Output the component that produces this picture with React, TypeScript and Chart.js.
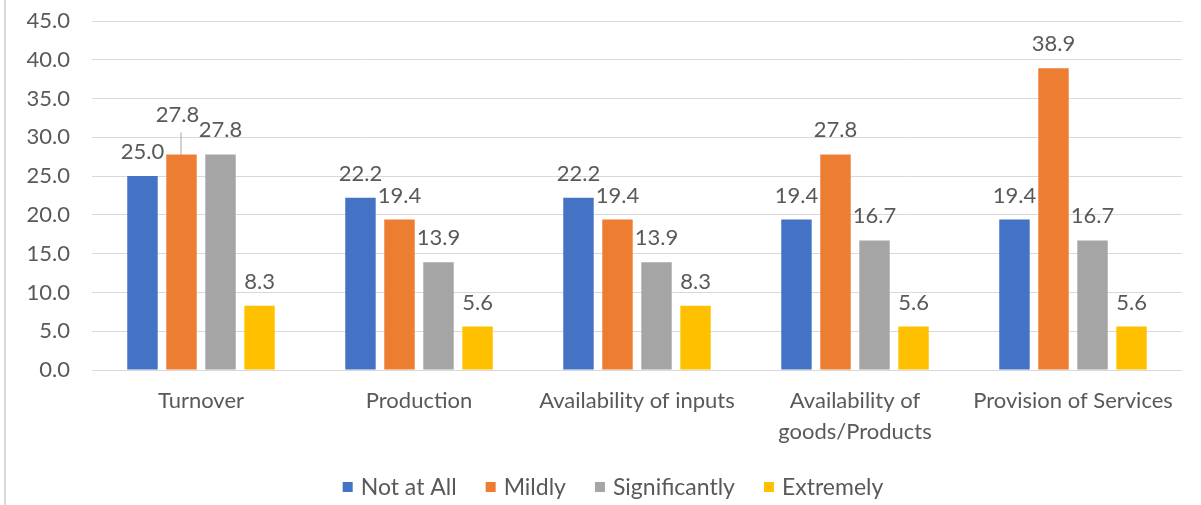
import { useEffect, useRef } from 'react';
import { Chart, registerables } from 'chart.js';

Chart.register(...registerables);

// Impact categories (multi-line label given as an array of lines)
const categories: (string | string[])[] = [
  'Turnover',
  'Production',
  'Availability of inputs',
  ['Availability of', 'goods/Products'],
  'Provision of Services',
];

const seriesNames = ['Not at All', 'Mildly', 'Significantly', 'Extremely'];
const seriesColors = ['#4472C4', '#ED7D31', '#A5A5A5', '#FFC000'];

const notAtAll = [25.0, 22.2, 22.2, 19.4, 19.4];
const mildly = [27.8, 19.4, 19.4, 27.8, 38.9];
const significantly = [27.8, 13.9, 13.9, 16.7, 16.7];
const extremely = [8.3, 5.6, 8.3, 5.6, 5.6];

const yMin = 0;
const yMax = 45;
const yStep = 5;

const FONT = 'Lato, "Noto Sans", sans-serif';
const TEXT_COLOR = '#595959';
const FONT_SIZE = 22;
const LEGEND_FONT_SIZE = 23;

// Value labels drawn above each bar; one label is lifted with a leader line
const valueLabels = {
  id: 'valueLabels',
  afterDatasetsDraw(chart: any) {
    const ctx = chart.ctx;
    const lifted: Record<string, { dx: number; dy: number }> = { '1:0': { dx: -4, dy: -15 } };
    ctx.save();
    ctx.font = `${FONT_SIZE}px ${FONT}`;
    ctx.fillStyle = TEXT_COLOR;
    ctx.textAlign = 'center';
    ctx.textBaseline = 'alphabetic';
    chart.data.datasets.forEach((ds: any, di: number) => {
      const meta = chart.getDatasetMeta(di);
      meta.data.forEach((bar: any, i: number) => {
        const v = ds.data[i] as number;
        const off = lifted[`${di}:${i}`];
        const dx = off ? off.dx : 0;
        const dy = off ? off.dy : 0;
        const baseY = bar.y - 17 + dy;
        if (off) {
          ctx.strokeStyle = '#a6a6a6';
          ctx.lineWidth = 1;
          ctx.beginPath();
          ctx.moveTo(bar.x - 0.5, baseY + 10);
          ctx.lineTo(bar.x - 0.5, bar.y);
          ctx.stroke();
        }
        ctx.fillText(v.toFixed(1), bar.x + dx, baseY);
      });
    });
    ctx.restore();
  },
};

// Legend row at the bottom with small square swatches
const bottomLegend = {
  id: 'bottomLegend',
  afterDraw(chart: any) {
    const ctx = chart.ctx;
    const box = 10;
    const gap = 8;
    const spacing = 29;
    const centerX = 613;
    const y = 487;
    ctx.save();
    ctx.font = `${LEGEND_FONT_SIZE}px ${FONT}`;
    const items = chart.data.datasets.map((ds: any) => ({
      text: ds.label as string,
      color: ds.backgroundColor as string,
      w: ctx.measureText(ds.label).width,
    }));
    const total =
      items.reduce((s: number, it: any) => s + box + gap + it.w, 0) + spacing * (items.length - 1);
    let x = centerX - total / 2;
    ctx.textBaseline = 'middle';
    ctx.textAlign = 'left';
    items.forEach((it: any) => {
      ctx.fillStyle = it.color;
      ctx.fillRect(x, y - box / 2, box, box);
      x += box + gap;
      ctx.fillStyle = TEXT_COLOR;
      ctx.fillText(it.text, x, y + 1);
      x += it.w + spacing;
    });
    ctx.restore();
  },
};

// Thin frame line along the left edge
const leftFrame = {
  id: 'leftFrame',
  beforeDraw(chart: any) {
    const ctx = chart.ctx;
    ctx.save();
    ctx.fillStyle = '#ffffff';
    ctx.fillRect(0, 0, chart.width, chart.height);
    ctx.strokeStyle = '#d9d9d9';
    ctx.lineWidth = 2;
    ctx.beginPath();
    ctx.moveTo(5, 0);
    ctx.lineTo(5, chart.height);
    ctx.stroke();
    ctx.restore();
  },
};

export default function App() {
  const canvasRef = useRef<HTMLCanvasElement | null>(null);

  useEffect(() => {
    if (!canvasRef.current) return;
    const values = [notAtAll, mildly, significantly, extremely];
    const chart = new Chart(canvasRef.current, {
      type: 'bar',
      data: {
        labels: categories,
        datasets: seriesNames.map((name, i) => ({
          label: name,
          data: values[i],
          backgroundColor: seriesColors[i],
          borderWidth: 0,
          categoryPercentage: 0.716,
          barPercentage: 0.78,
        })),
      },
      options: {
        responsive: false,
        animation: false,
        events: [],
        layout: { padding: { top: 21, right: 19, left: 0, bottom: 0 } },
        plugins: {
          legend: { display: false },
          tooltip: { enabled: false },
        },
        scales: {
          x: {
            grid: { display: false, drawTicks: false },
            border: { display: false },
            ticks: {
              color: TEXT_COLOR,
              font: { family: FONT, size: FONT_SIZE, lineHeight: 1.4 },
              padding: 16,
              maxRotation: 0,
              autoSkip: false,
            },
            afterFit(scale: any) {
              scale.height = 135;
            },
          },
          y: {
            min: yMin,
            max: yMax,
            grid: { color: '#d9d9d9', lineWidth: 1, drawTicks: false },
            border: { display: false },
            ticks: {
              stepSize: yStep,
              color: TEXT_COLOR,
              font: { family: FONT, size: FONT_SIZE },
              padding: 22,
              callback: (v: any) => Number(v).toFixed(1),
            },
            afterFit(scale: any) {
              scale.width = 92;
              scale.paddingTop = 0;
              scale.paddingBottom = 0;
            },
          },
        },
      },
      plugins: [leftFrame, valueLabels, bottomLegend],
    });
    return () => chart.destroy();
  }, []);

  return (
    <div style={{ position: 'absolute', left: 0, top: 0, width: 1201, height: 505 }}>
      <canvas ref={canvasRef} width={1201} height={505} />
    </div>
  );
}
